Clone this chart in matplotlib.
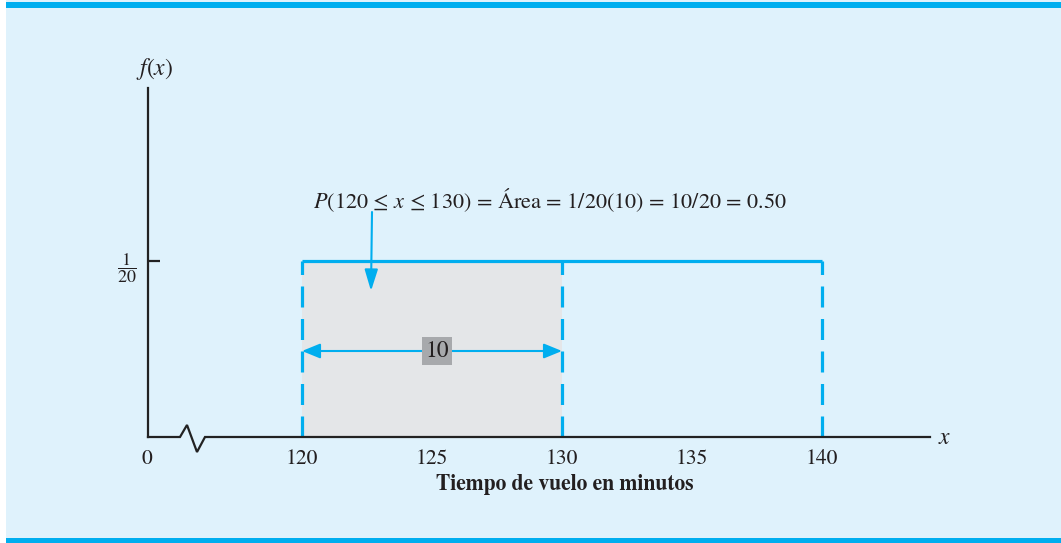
import matplotlib
matplotlib.use("Agg")
import matplotlib.pyplot as plt
from matplotlib.patches import Rectangle

# ---- data ----
a, b = 120, 140                 # uniform range (minutes)
p_lo, p_hi = 120, 130           # probability interval
density = 1 / 20
x_ticks = [120, 125, 130, 135, 140]
x_tick_labels = ["120", "125", "130", "135", "140"]
width_label = "10"
prob_text = r"$P$(120 ≤ $x$ ≤ 130) = Área = 1/20(10) = 10/20 = 0.50"
x_title = "Tiempo de vuelo en minutos"

BLUE = "#00aeef"
BG = "#dff2fc"
SERIF = "STIXGeneral"
plt.rcParams["mathtext.fontset"] = "stix"

W, H = 1061, 543
fig = plt.figure(figsize=(W / 100, H / 100), dpi=100, facecolor="white")

# background panel and bars
fig.patches.append(Rectangle((6 / W, 0), 1 - 6 / W, 1, transform=fig.transFigure,
                             facecolor=BG, edgecolor="none", zorder=-2))
fig.patches.append(Rectangle((6 / W, 1 - 7.7 / H), 1 - 6 / W, 5.5 / H, transform=fig.transFigure,
                             facecolor=BLUE, edgecolor="none", zorder=-1))
fig.patches.append(Rectangle((6 / W, 0), 1 - 6 / W, 5.4 / H, transform=fig.transFigure,
                             facecolor=BLUE, edgecolor="none", zorder=-1))

# axes placement (pixels)
ax_l, ax_r, ax_b, ax_t = 148, 930, 437, 88
ax = fig.add_axes([ax_l / W, (H - ax_b) / H, (ax_r - ax_l) / W, (ax_b - ax_t) / H])
ax.set_facecolor("none")
px_per_min = 26.0
x0 = a - (302 - ax_l) / px_per_min
x1 = a + (ax_r - 302) / px_per_min
y_per_px = density / 176
ax.set_xlim(x0, x1)
ax.set_ylim(0, (ax_b - ax_t) * y_per_px)

for s in ["top", "right", "bottom"]:
    ax.spines[s].set_visible(False)
ax.spines["left"].set_linewidth(1.6)
ax.spines["left"].set_color("#222222")

# shaded probability area
ax.fill_between([p_lo, p_hi], 0, density, color="#e4e6e8", zorder=1, linewidth=0)

# density top line
lw = 2.3
ax.plot([a, b], [density, density], color=BLUE, lw=lw, solid_capstyle="butt", zorder=3)
for xv in [a, p_hi, b]:
    ax.plot([xv, xv], [0, density], color=BLUE, lw=lw,
            linestyle=(0, (21 * 0.72 / lw, 11.5 * 0.72 / lw)), dash_capstyle="butt", zorder=3)

# x axis with break
u = 1 / px_per_min
zx = [x0, x0 + 32 * u, x0 + 39 * u, x0 + 49 * u, x0 + 57 * u, x1]
zy = [0, 0, 12 * y_per_px, -15 * y_per_px, 0, 0]
ax.plot(zx, zy, color="#222222", lw=1.6, clip_on=False, zorder=4, solid_joinstyle="miter")

# ticks
ax.set_xticks(x_ticks)
ax.set_xticklabels(x_tick_labels, fontfamily=SERIF, fontsize=15.5, color="#231f20")
ax.tick_params(axis="x", length=0, pad=9)
ax.set_yticks([density])
ax.set_yticklabels([r"$\dfrac{1}{20}$"], fontsize=13, color="#231f20")
ax.tick_params(axis="y", direction="in", length=8.6, width=1.6, color="#222222", pad=8)

ax.annotate("0", xy=(0, 0), xycoords="axes fraction", xytext=(-1, -9), textcoords="offset points",
            ha="center", va="top", fontfamily=SERIF, fontsize=15.5, color="#231f20")
ax.annotate(r"$f(x)$", xy=(0, 1), xycoords="axes fraction", xytext=(5, 14), textcoords="offset points",
            ha="center", va="center", fontsize=17, color="#231f20")
ax.annotate(r"$x$", xy=(1, 0), xycoords="axes fraction", xytext=(6, 0), textcoords="offset points",
            ha="left", va="center", fontsize=17, color="#231f20")
ax.set_xlabel(x_title, fontfamily=SERIF, fontsize=15.5, fontweight="bold", color="#231f20", labelpad=6)
ax.xaxis.set_label_coords((565 - ax_l) / (ax_r - ax_l), -0.105)

# probability text + arrow
ax.text(a + (550 - 302) * u, (437 - 200) * y_per_px, prob_text, ha="center", va="center",
        fontfamily=SERIF, fontsize=16, color="#231f20")
ax.annotate("", xy=(a + 69 * u, (437 - 291) * y_per_px), xytext=(a + 70 * u, (437 - 212) * y_per_px),
            arrowprops=dict(arrowstyle="-|>,head_length=1.3,head_width=0.4", color=BLUE, lw=1.5,
                            shrinkA=0, shrinkB=0), zorder=5)

# width dimension arrow
ydim = (437 - 351) * y_per_px
ax.annotate("", xy=(p_lo, ydim), xytext=(p_hi, ydim),
            arrowprops=dict(arrowstyle="<|-|>,head_length=1.1,head_width=0.45", color=BLUE, lw=1.5,
                            shrinkA=0, shrinkB=0), zorder=5)
ax.text((p_lo + p_hi) / 2 + 5 * u, ydim, width_label, ha="center", va="center",
        fontfamily=SERIF, fontsize=17, color="#231f20", zorder=6,
        bbox=dict(boxstyle="square,pad=0.14", facecolor="#a7a9ac", edgecolor="none"))

fig.savefig("out.png", dpi=100, facecolor=fig.get_facecolor())
